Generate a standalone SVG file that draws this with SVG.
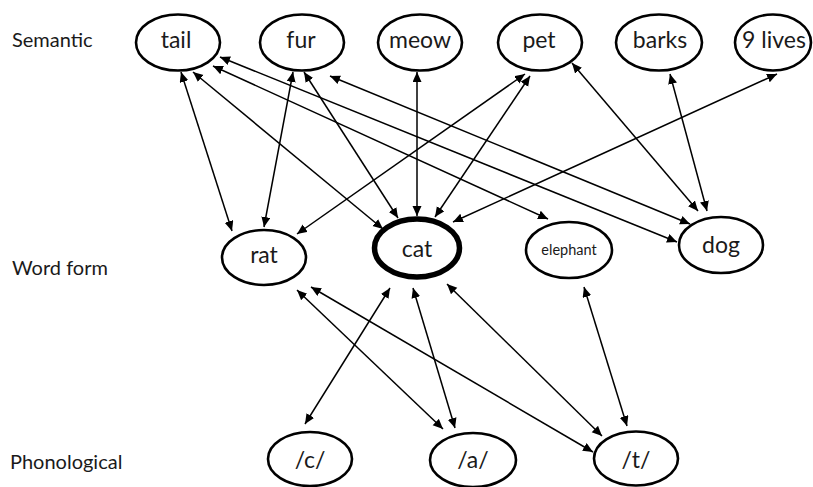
<svg xmlns="http://www.w3.org/2000/svg" width="813" height="487" viewBox="0 0 813 487">
  <defs>
    <style>
      .node { fill: #ffffff; stroke: #000000; stroke-width: 2.6; }
      .node.focus { stroke-width: 5.5; }
      .lbl { font-family: Lato, "Liberation Sans", sans-serif; font-size: 23px; fill: #1a1a1a; text-anchor: middle; }
      .lbl.small { font-size: 14.5px; }
      .row { font-family: Lato, "Liberation Sans", sans-serif; font-size: 20px; fill: #1a1a1a; }
      .link { fill: none; stroke: #000000; stroke-width: 1.5; marker-start: url(#head); marker-end: url(#head); }
    </style>
    <marker id="head" markerUnits="userSpaceOnUse" markerWidth="12" markerHeight="10" refX="10" refY="4.5" orient="auto-start-reverse">
      <path d="M0,0 L10,4.5 L0,9 z" fill="#000000"/>
    </marker>
  </defs>

  <rect width="813" height="487" fill="#ffffff"/>

  <!-- level names -->
  <g id="levels">
    <text class="row" x="12" y="47">Semantic</text>
    <text class="row" x="12" y="275">Word form</text>
    <text class="row" x="10" y="469">Phonological</text>
  </g>

  <!-- two-way links between levels -->
  <g id="connectors">
    <!-- semantic <-> word form -->
    <path class="link" d="M181,72 L232,231"/>
    <path class="link" d="M193,72 L383,229"/>
    <path class="link" d="M213,66 L548,219"/>
    <path class="link" d="M220,57 L677,242"/>
    <path class="link" d="M293,72 L264,227"/>
    <path class="link" d="M304,72 L398,218"/>
    <path class="link" d="M330,76 L690,224"/>
    <path class="link" d="M417,72 L417,216"/>
    <path class="link" d="M525,74 L297,234"/>
    <path class="link" d="M530,76 L435,217"/>
    <path class="link" d="M572,63 L698,211"/>
    <path class="link" d="M670,74 L707,211"/>
    <path class="link" d="M777,74 L453,222"/>
    <!-- word form <-> phonological -->
    <path class="link" d="M390,288 L305,424"/>
    <path class="link" d="M413,288 L455,428"/>
    <path class="link" d="M297,290 L443,429"/>
    <path class="link" d="M311,287 L593,452"/>
    <path class="link" d="M447,284 L602,436"/>
    <path class="link" d="M584,287 L627,426"/>
  </g>

  <!-- semantic features -->
  <g id="tail"><ellipse class="node" cx="178" cy="42.5" rx="42" ry="28"/><text class="lbl" x="176" y="48">tail</text></g>
  <g id="fur"><ellipse class="node" cx="302" cy="42.5" rx="42" ry="28"/><text class="lbl" x="301" y="48">fur</text></g>
  <g id="meow"><ellipse class="node" cx="420" cy="42.5" rx="42" ry="28"/><text class="lbl" x="420" y="48">meow</text></g>
  <g id="pet"><ellipse class="node" cx="540" cy="42.5" rx="42" ry="28"/><text class="lbl" x="539" y="48">pet</text></g>
  <g id="barks"><ellipse class="node" cx="659" cy="42.5" rx="43" ry="28"/><text class="lbl" x="660" y="48">barks</text></g>
  <g id="nine-lives"><ellipse class="node" cx="773" cy="42.5" rx="38" ry="28"/><text class="lbl" x="774" y="48">9 lives</text></g>

  <!-- word forms -->
  <g id="rat"><ellipse class="node" cx="264" cy="257.5" rx="42" ry="27.5"/><text class="lbl" x="264" y="263">rat</text></g>
  <g id="cat"><ellipse class="node focus" cx="417" cy="248" rx="42.5" ry="29"/><text class="lbl" x="417" y="257">cat</text></g>
  <g id="elephant"><ellipse class="node" cx="569" cy="250" rx="43" ry="28"/><text class="lbl small" x="569" y="255">elephant</text></g>
  <g id="dog"><ellipse class="node" cx="721" cy="245" rx="42" ry="28"/><text class="lbl" x="721" y="253">dog</text></g>

  <!-- phonemes -->
  <g id="ph-c"><ellipse class="node" cx="310" cy="459" rx="42" ry="27"/><text class="lbl" x="310" y="468">/c/</text></g>
  <g id="ph-a"><ellipse class="node" cx="473" cy="460" rx="43" ry="27"/><text class="lbl" x="473" y="468">/a/</text></g>
  <g id="ph-t"><ellipse class="node" cx="636" cy="458.5" rx="42" ry="27"/><text class="lbl" x="636" y="468">/t/</text></g>
</svg>
